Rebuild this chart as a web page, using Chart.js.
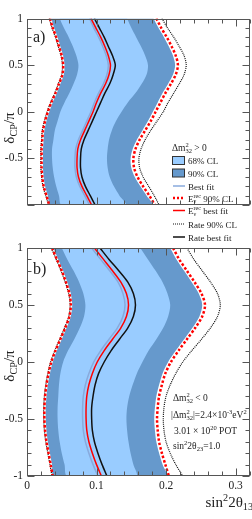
<!DOCTYPE html>
<html>
<head>
<meta charset="utf-8">
<script src="https://cdn.jsdelivr.net/npm/chart.js@4.4.1/dist/chart.umd.min.js"></script>
<style>
  html, body { margin: 0; padding: 0; background: #fff; }
  #wrap { position: relative; width: 252px; height: 519px; overflow: hidden; }
  #wrap canvas { position: absolute; left: 0; top: 0; }
</style>
</head>
<body>
<div id="wrap">
  <canvas id="panelA" width="252" height="519"></canvas>
  <canvas id="panelB" width="252" height="519"></canvas>
</div>
<script>
// δCP/π sampled from top to bottom of each panel
const DELTA = [1, 0.9, 0.8, 0.7, 0.6, 0.5, 0.4, 0.3, 0.2, 0.1, 0, -0.1, -0.2, -0.3, -0.4, -0.5, -0.6, -0.7, -0.8, -0.9, -1];
const X_TICKS = [0, 0.1, 0.2, 0.3];
const Y_TICKS = [1, 0.5, 0, -0.5, -1];

// ── a) Δm²32 > 0 ── sin²2θ13 at each DELTA
const A_CL90_L     = [0.035,0.039,0.044,0.048,0.052,0.054,0.053,0.048,0.043,0.037,0.032,0.028,0.025,0.024,0.023,0.023,0.023,0.024,0.026,0.030,0.034];
const A_CL90_R     = [0.182,0.189,0.197,0.204,0.210,0.213,0.210,0.203,0.195,0.188,0.181,0.174,0.166,0.158,0.152,0.149,0.150,0.155,0.163,0.172,0.180];
const A_CL68_L     = [0.047,0.053,0.060,0.066,0.071,0.074,0.072,0.067,0.061,0.054,0.048,0.044,0.040,0.038,0.036,0.036,0.037,0.039,0.042,0.046,0.050];
const A_CL68_R     = [0.144,0.150,0.157,0.164,0.170,0.174,0.172,0.165,0.156,0.145,0.136,0.128,0.122,0.118,0.116,0.115,0.116,0.119,0.125,0.133,0.142];
const A_BEST       = [0.090,0.096,0.103,0.109,0.114,0.117,0.115,0.110,0.103,0.097,0.092,0.086,0.080,0.074,0.070,0.069,0.069,0.071,0.076,0.083,0.090];
const A_EREC90_L   = [0.033,0.037,0.042,0.046,0.050,0.052,0.051,0.046,0.041,0.035,0.030,0.026,0.023,0.022,0.021,0.021,0.021,0.022,0.024,0.028,0.032];
const A_EREC90_R   = [0.186,0.193,0.201,0.208,0.214,0.217,0.214,0.207,0.199,0.192,0.185,0.178,0.170,0.162,0.156,0.153,0.154,0.159,0.167,0.176,0.184];
const A_EREC_BEST  = [0.092,0.099,0.106,0.112,0.117,0.120,0.118,0.113,0.106,0.100,0.095,0.089,0.083,0.077,0.073,0.072,0.072,0.074,0.079,0.086,0.093];
const A_RATE90_L   = [0.032,0.036,0.041,0.045,0.049,0.051,0.050,0.045,0.040,0.034,0.029,0.025,0.022,0.021,0.020,0.020,0.020,0.021,0.023,0.027,0.031];
const A_RATE90_R   = [0.194,0.202,0.211,0.219,0.226,0.229,0.226,0.219,0.211,0.203,0.196,0.187,0.178,0.170,0.164,0.161,0.162,0.167,0.175,0.183,0.190];
const A_RATE_BEST  = [0.097,0.104,0.111,0.117,0.123,0.127,0.124,0.119,0.112,0.106,0.100,0.094,0.088,0.082,0.078,0.077,0.077,0.079,0.084,0.091,0.098];

// ── b) Δm²32 < 0
const B_CL90_L     = [0.038,0.045,0.052,0.058,0.063,0.065,0.063,0.057,0.050,0.043,0.037,0.033,0.030,0.028,0.027,0.027,0.028,0.030,0.033,0.036,0.039];
const B_CL90_R     = [0.206,0.215,0.226,0.237,0.247,0.252,0.248,0.238,0.226,0.214,0.203,0.195,0.190,0.186,0.184,0.183,0.184,0.186,0.190,0.195,0.200];
const B_CL68_L     = [0.050,0.058,0.067,0.075,0.081,0.084,0.082,0.076,0.068,0.059,0.052,0.048,0.046,0.045,0.044,0.044,0.045,0.047,0.050,0.054,0.058];
const B_CL68_R     = [0.163,0.174,0.185,0.195,0.202,0.206,0.203,0.196,0.186,0.175,0.166,0.158,0.152,0.147,0.144,0.143,0.144,0.146,0.149,0.153,0.157];
const B_BEST       = [0.093,0.106,0.119,0.131,0.138,0.141,0.138,0.130,0.118,0.106,0.096,0.089,0.084,0.081,0.080,0.080,0.081,0.084,0.089,0.095,0.102];
const B_EREC90_L   = [0.036,0.043,0.050,0.056,0.061,0.063,0.061,0.055,0.048,0.041,0.035,0.031,0.028,0.026,0.025,0.025,0.026,0.028,0.031,0.034,0.037];
const B_EREC90_R   = [0.210,0.219,0.230,0.241,0.251,0.256,0.252,0.242,0.230,0.218,0.207,0.199,0.194,0.190,0.188,0.187,0.188,0.190,0.194,0.199,0.204];
const B_EREC_BEST  = [0.097,0.110,0.123,0.135,0.143,0.146,0.143,0.135,0.123,0.111,0.101,0.094,0.089,0.086,0.085,0.085,0.086,0.089,0.094,0.100,0.107];
const B_RATE90_L   = [0.035,0.042,0.049,0.055,0.060,0.062,0.060,0.054,0.047,0.040,0.034,0.030,0.027,0.025,0.024,0.024,0.025,0.027,0.030,0.033,0.036];
const B_RATE90_R   = [0.230,0.240,0.252,0.264,0.274,0.278,0.274,0.264,0.251,0.237,0.224,0.214,0.206,0.200,0.197,0.196,0.197,0.200,0.206,0.214,0.224];
const B_RATE_BEST  = [0.105,0.118,0.132,0.145,0.153,0.156,0.153,0.145,0.133,0.121,0.111,0.103,0.098,0.095,0.093,0.093,0.094,0.097,0.102,0.108,0.115];

const FONT = '"Liberation Serif", "Times New Roman", serif';
const COL = {
  cl68: '#99ccff', cl90: '#6699cc', best: '#88aadd',
  red: '#ff0000', black: '#111111', frame: '#555555', text: '#222222'
};
const TENSION = 0.3;

function pts(xs) { return DELTA.map((d, i) => ({ x: xs[i], y: d })); }

// closed contour: down the left edge, back up the right edge
function band(left, right, color, order) {
  return {
    data: pts(left).concat(pts(right).reverse()),
    showLine: true, pointRadius: 0, tension: TENSION,
    borderWidth: 0, borderColor: 'rgba(0,0,0,0)',
    backgroundColor: color, fill: 'shape', order
  };
}

function curve(xs, color, width, dash, order) {
  return {
    data: pts(xs), showLine: true, pointRadius: 0, tension: TENSION, fill: false,
    borderColor: color, borderWidth: width, borderDash: dash || [], borderCapStyle: 'butt', order
  };
}

// text with stacked sup/sub parts: strings or {sup, sub}
function rich(ctx, parts, x, y, size, align) {
  const big = `${size}px ${FONT}`, small = `${(size * 0.68).toFixed(1)}px ${FONT}`;
  const wOf = p => {
    if (typeof p === 'string') { ctx.font = big; return ctx.measureText(p).width; }
    ctx.font = small;
    return Math.max(p.sup ? ctx.measureText(p.sup).width : 0, p.sub ? ctx.measureText(p.sub).width : 0);
  };
  const total = parts.reduce((s, p) => s + wOf(p), 0);
  let cx = align === 'center' ? x - total / 2 : align === 'right' ? x - total : x;
  ctx.textAlign = 'left';
  ctx.textBaseline = 'alphabetic';
  for (const p of parts) {
    const w = wOf(p);
    if (typeof p === 'string') { ctx.font = big; ctx.fillText(p, cx, y); }
    else {
      ctx.font = small;
      if (p.sup) ctx.fillText(p.sup, cx, y - size * 0.4);
      if (p.sub) ctx.fillText(p.sub, cx, y + size * 0.22);
    }
    cx += w;
  }
}

function yTitle(ctx, yc) {
  ctx.save();
  ctx.translate(14, yc);
  ctx.rotate(-Math.PI / 2);
  rich(ctx, ['δ', { sub: 'CP' }, '/π'], 0, 0, 15, 'center');
  ctx.restore();
}

// ROOT-like frame: box + inward major/minor ticks on all four sides
const rootAxes = {
  id: 'rootAxes',
  afterDatasetsDraw(chart, args, opts) {
    const { ctx, chartArea: a } = chart;
    const x = chart.scales.x, y = chart.scales.y;
    const L = Math.round(a.left) + 0.5, R = Math.round(a.right) - 0.5;
    const T = Math.round(a.top) + 0.5, B = Math.round(a.bottom) - 0.5;
    ctx.save();
    ctx.strokeStyle = COL.frame;
    ctx.lineWidth = 1;
    ctx.beginPath();
    for (let k = 0; k <= 16; k++) {
      const px = Math.round(x.getPixelForValue(k * 0.02)) + 0.5;
      const len = k % 5 === 0 ? 7 : 4;
      ctx.moveTo(px, T); ctx.lineTo(px, T + len);
      ctx.moveTo(px, B); ctx.lineTo(px, B - len);
    }
    for (let k = -10; k <= 10; k++) {
      const py = Math.round(y.getPixelForValue(k / 10)) + 0.5;
      const len = k % 5 === 0 ? 7 : 4;
      ctx.moveTo(L, py); ctx.lineTo(L + len, py);
      ctx.moveTo(R, py); ctx.lineTo(R - len, py);
    }
    ctx.stroke();
    ctx.strokeRect(L, T, R - L, B - T);
    ctx.fillStyle = COL.text;
    if (opts.draw) opts.draw(ctx, chart);
    ctx.restore();
  }
};

function legendA(ctx) {
  const size = 9;
  rich(ctx, ['Δm', { sup: '2', sub: '32' }, ' > 0'], 172, 151, 9.5);
  const rows = [
    { y: 160.5, box: COL.cl68, label: ['68% CL'] },
    { y: 173,   box: COL.cl90, label: ['90% CL'] },
    { y: 186,   line: COL.best, w: 1.5, label: ['Best fit'] },
    { y: 198,   line: COL.red, w: 2.5, dash: [2, 2], label: ['E', { sup: 'rec', sub: 'ν' }, ' 90% CL'] },
    { y: 210.5, line: COL.red, w: 1.5, label: ['E', { sup: 'rec', sub: 'ν' }, ' best fit'] },
    { y: 224,   line: COL.black, w: 1.2, dash: [1, 1], label: ['Rate 90% CL'] },
    { y: 237,   line: COL.black, w: 1.5, label: ['Rate best fit'] }
  ];
  rows.forEach(r => {
    if (r.box) {
      ctx.fillStyle = r.box;
      ctx.fillRect(172.5, r.y - 4, 12, 8);
      ctx.strokeStyle = '#333';
      ctx.lineWidth = 1;
      ctx.setLineDash([]);
      ctx.strokeRect(172.5, r.y - 4, 12, 8);
    } else {
      ctx.strokeStyle = r.line;
      ctx.lineWidth = r.w;
      ctx.setLineDash(r.dash || []);
      ctx.beginPath();
      ctx.moveTo(173, r.y); ctx.lineTo(185, r.y);
      ctx.stroke();
      ctx.setLineDash([]);
    }
    ctx.fillStyle = COL.text;
    rich(ctx, r.label, 188, r.y + 3.5, size);
  });
}

function notesB(ctx) {
  const size = 9.5;
  rich(ctx, ['Δm', { sup: '2', sub: '32' }, ' < 0'], 173, 401, size);
  rich(ctx, ['|Δm', { sup: '2', sub: '32' }, '|=2.4×10', { sup: '-3' }, 'eV', { sup: '2' }], 171, 418, size);
  rich(ctx, ['3.01 × 10', { sup: '20' }, ' POT'], 174, 434, size);
  rich(ctx, ['sin', { sup: '2' }, '2θ', { sub: '23' }, '=1.0'], 173, 449, size);
}

function makePanel(id, d, o) {
  return new Chart(document.getElementById(id), {
    type: 'scatter',
    data: {
      datasets: [
        band(d.cl90L, d.cl90R, COL.cl90, 20),
        band(d.cl68L, d.cl68R, COL.cl68, 19),
        curve(d.best, COL.best, 1.5, null, 10),
        curve(d.rate90L, COL.black, 1.2, [1, 1], 9),
        curve(d.rate90R, COL.black, 1.2, [1, 1], 9),
        curve(d.erec90L, COL.red, 2.5, [2.5, 2], 8),
        curve(d.erec90R, COL.red, 2.5, [2.5, 2], 8),
        curve(d.erecBest, COL.red, 1.5, null, 7),
        curve(d.rateBest, COL.black, 1.5, null, 6)
      ]
    },
    options: {
      responsive: false,
      animation: false,
      devicePixelRatio: 1,
      layout: { padding: o.padding },
      plugins: {
        legend: { display: false },
        tooltip: { enabled: false },
        rootAxes: { draw: o.draw }
      },
      scales: {
        x: {
          type: 'linear', min: 0, max: 0.32, display: o.showX,
          afterBuildTicks: s => { s.ticks = X_TICKS.map(v => ({ value: v })); },
          afterFit: s => { s.height = 43; },
          grid: { display: false, drawTicks: false },
          border: { display: false },
          ticks: {
            padding: 3, color: COL.text, font: { family: FONT, size: 11.5 },
            maxRotation: 0,
            callback: v => (v === 0 ? '0' : v.toFixed(1))
          }
        },
        y: {
          type: 'linear', min: -1, max: 1,
          afterBuildTicks: s => { s.ticks = Y_TICKS.map(v => ({ value: v })); },
          afterFit: s => { s.width = 27; },
          grid: { display: false, drawTicks: false },
          border: { display: false },
          ticks: {
            padding: 4, color: COL.text, font: { family: FONT, size: 11.5 },
            callback: v => (o.skipBottom && v === -1 ? '' : String(v))
          }
        }
      }
    },
    plugins: [rootAxes]
  });
}

makePanel('panelA', {
  cl90L: A_CL90_L, cl90R: A_CL90_R, cl68L: A_CL68_L, cl68R: A_CL68_R, best: A_BEST,
  erec90L: A_EREC90_L, erec90R: A_EREC90_R, erecBest: A_EREC_BEST,
  rate90L: A_RATE90_L, rate90R: A_RATE90_R, rateBest: A_RATE_BEST
}, {
  padding: { top: 18.5, bottom: 271, left: 0, right: 2.5 },
  showX: false, skipBottom: true,
  draw: ctx => {
    ctx.font = `16px ${FONT}`;
    ctx.textAlign = 'left';
    ctx.textBaseline = 'alphabetic';
    ctx.fillText('a)', 33, 42);
    yTitle(ctx, 128);
    legendA(ctx);
  }
});

makePanel('panelB', {
  cl90L: B_CL90_L, cl90R: B_CL90_R, cl68L: B_CL68_L, cl68R: B_CL68_R, best: B_BEST,
  erec90L: B_EREC90_L, erec90R: B_EREC90_R, erecBest: B_EREC_BEST,
  rate90L: B_RATE90_L, rate90R: B_RATE90_R, rateBest: B_RATE_BEST
}, {
  padding: { top: 248, bottom: 0, left: 0, right: 2.5 },
  showX: true, skipBottom: false,
  draw: ctx => {
    ctx.font = `16px ${FONT}`;
    ctx.textAlign = 'left';
    ctx.textBaseline = 'alphabetic';
    ctx.fillText('b)', 33, 274);
    yTitle(ctx, 366);
    notesB(ctx);
    rich(ctx, ['sin', { sup: '2' }, '2θ', { sub: '13' }], 253, 507, 15, 'right');
  }
});
</script>
</body>
</html>
